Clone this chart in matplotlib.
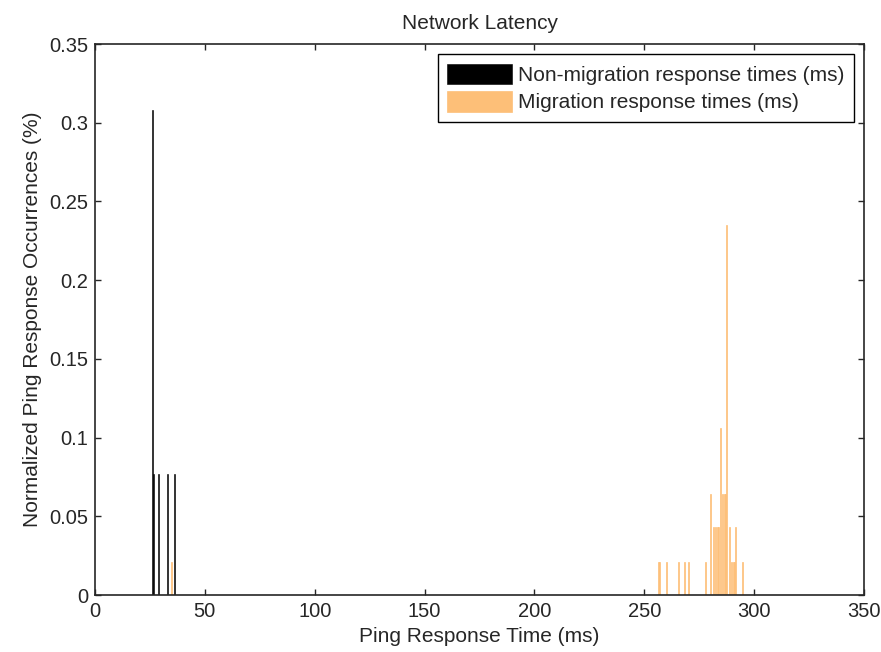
import numpy as np
import matplotlib
matplotlib.use('Agg')
import matplotlib.pyplot as plt
from matplotlib.ticker import MultipleLocator, FormatStrFormatter

# histogram bars (ms, normalised occurrence)
nonmig_x = [26.0, 26.7, 29.1, 32.8, 36.3]
nonmig_y = [0.308, 0.077, 0.077, 0.077, 0.077]

mig_x = [35.0, 256.3, 256.9, 260.2, 265.6, 268.2, 269.9, 277.9, 280.1, 281.3,
         282.6, 283.2, 283.9, 284.5, 285.7, 286.3, 286.9, 287.5, 288.7, 289.8,
         290.4, 291.0, 291.7, 294.7]
mig_y = [0.021, 0.021, 0.021, 0.021, 0.021, 0.021, 0.021, 0.021, 0.064, 0.043,
         0.043, 0.043, 0.043, 0.106, 0.064, 0.064, 0.064, 0.235, 0.043, 0.021,
         0.021, 0.021, 0.043, 0.021]

labels = ['Non-migration response times (ms)', 'Migration response times (ms)']
orange = '#fdbf78'

plt.rcParams['font.family'] = ['Liberation Sans', 'DejaVu Sans']

fig = plt.figure(figsize=(8.81, 6.52), dpi=100)
ax = fig.add_axes([0.1078, 0.0874, 0.873, 0.8451])

ax.bar(nonmig_x, nonmig_y, width=0.45, color='black', edgecolor='black', linewidth=0.4, label=labels[0])
ax.bar(mig_x, mig_y, width=0.45, color=orange, edgecolor=orange, linewidth=0.5, label=labels[1])

ax.set_xlim(0, 350)
ax.set_ylim(0, 0.35)
ax.xaxis.set_major_locator(MultipleLocator(50))
ax.yaxis.set_major_locator(MultipleLocator(0.05))
ax.yaxis.set_major_formatter(FormatStrFormatter('%g'))
ax.tick_params(direction='in', length=4.5, width=1, top=True, right=True, labelsize=14.5,
               colors='#262626', pad=5)
for s in ax.spines.values():
    s.set_linewidth(1.2)
    s.set_color('#262626')

ax.set_title('Network Latency', fontsize=15, pad=11, color='#262626')
ax.set_xlabel('Ping Response Time (ms)', fontsize=15, labelpad=4, color='#262626')
ax.set_ylabel('Normalized Ping Response Occurrences (%)', fontsize=15, labelpad=5, color='#262626')

leg = ax.legend(loc='upper right', fontsize=15, fancybox=False, framealpha=1,
                edgecolor='black', handlelength=3.1, handleheight=1.12,
                borderaxespad=0.5, borderpad=0.45, labelspacing=0.3, handletextpad=0.3)
leg.get_frame().set_linewidth(1.0)
for t in leg.get_texts():
    t.set_color('#262626')

fig.savefig('out.png', dpi=100)
